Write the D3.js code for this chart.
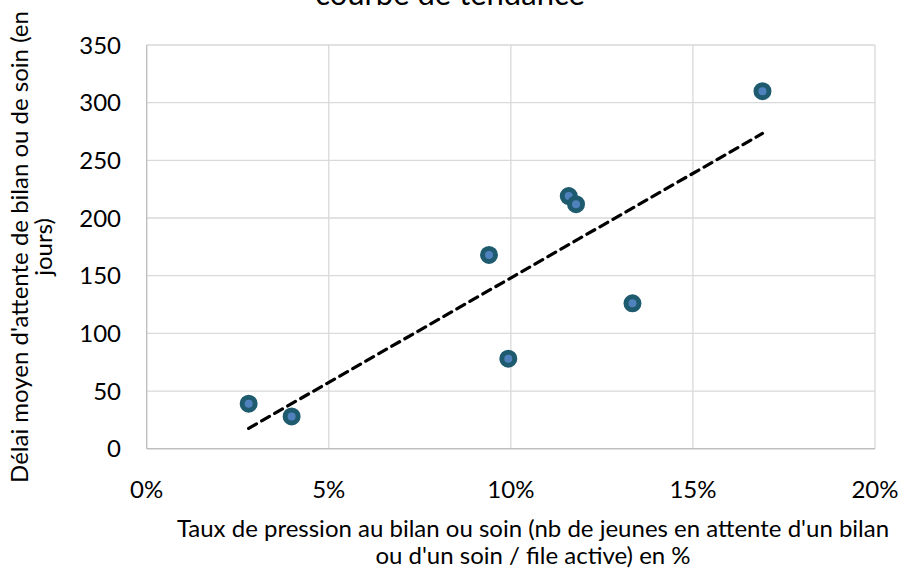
<!DOCTYPE html>
<html><head><meta charset="utf-8">
<script src="https://cdn.jsdelivr.net/npm/d3@7"></script>
<style>body{margin:0;background:#fff}svg{display:block}text{font-family:Lato,"Open Sans",sans-serif;fill:#000}</style>
</head><body>
<svg id="c" width="903" height="569"></svg>
<script>
const titleText = "courbe de tendance";
const xTitleLines = ["Taux de pression au bilan ou soin (nb de jeunes en attente d'un bilan", "ou d'un soin / file active) en %"];
const yTitleLines = ["Délai moyen d'attente de bilan ou de soin (en", "jours)"];
const xTicks = [0, 0.05, 0.10, 0.15, 0.20];
const yTicks = [0, 50, 100, 150, 200, 250, 300, 350];
const xValues = [0.028, 0.0398, 0.094, 0.0993, 0.1159, 0.1179, 0.1334, 0.1691];
const yValues = [39, 28, 168, 78, 219, 212, 126, 310];

const svg = d3.select("#c");
const L = 146.7, R = 875, T = 45, B = 448.7;
const x = d3.scaleLinear().domain([0, 0.20]).range([L, R]);
const y = d3.scaleLinear().domain([0, 350]).range([B, T]);

// gridlines
svg.append("g").selectAll("line").data(xTicks.slice(1)).join("line")
  .attr("x1", d => x(d)).attr("x2", d => x(d)).attr("y1", T).attr("y2", B)
  .attr("stroke", "#d9d9d9").attr("stroke-width", 1.3);
svg.append("g").selectAll("line").data(yTicks.slice(1)).join("line")
  .attr("x1", L).attr("x2", R).attr("y1", d => y(d)).attr("y2", d => y(d))
  .attr("stroke", "#d9d9d9").attr("stroke-width", 1.3);
// axis lines
svg.append("line").attr("x1", x(0)).attr("x2", x(0)).attr("y1", T).attr("y2", B)
  .attr("stroke", "#bfbfbf").attr("stroke-width", 1.4);
svg.append("line").attr("x1", L).attr("x2", R).attr("y1", y(0)).attr("y2", y(0))
  .attr("stroke", "#bfbfbf").attr("stroke-width", 1.4);

// tick labels
svg.append("g").selectAll("text").data(yTicks).join("text")
  .attr("x", 121).attr("y", d => y(d)).attr("dy", "0.36em")
  .attr("text-anchor", "end").attr("font-size", 24).text(d => d);
svg.append("g").selectAll("text").data(xTicks).join("text")
  .attr("x", d => x(d)).attr("y", 498)
  .attr("text-anchor", "middle").attr("font-size", 24).text(d => d3.format(".0%")(d));

// trend line (least squares)
const mx = d3.mean(xValues), my = d3.mean(yValues);
let sxy = 0, sxx = 0;
xValues.forEach((v, i) => { sxy += (v - mx) * (yValues[i] - my); sxx += (v - mx) ** 2; });
const slope = sxy / sxx, icpt = my - slope * mx;
const x0 = d3.min(xValues), x1 = d3.max(xValues);
svg.append("line")
  .attr("x1", x(x0)).attr("y1", y(icpt + slope * x0))
  .attr("x2", x(x1)).attr("y2", y(icpt + slope * x1))
  .attr("stroke", "#000").attr("stroke-width", 3.2)
  .attr("stroke-dasharray", "9,6").attr("stroke-linecap", "round");

// points
svg.append("g").selectAll("circle").data(xValues).join("circle")
  .attr("cx", d => x(d)).attr("cy", (d, i) => y(yValues[i])).attr("r", 6.5)
  .attr("fill", "#4f81bd").attr("stroke", "#1f5b6f").attr("stroke-width", 5);

// titles
svg.append("text").attr("x", 450).attr("y", 5).attr("text-anchor", "middle")
  .attr("font-size", 31).text(titleText);
svg.append("g").selectAll("text").data(xTitleLines).join("text")
  .attr("x", 533).attr("y", (d, i) => 537 + i * 27).attr("text-anchor", "middle")
  .attr("font-size", 24).text(d => d);
svg.append("g").attr("transform", "translate(0,247) rotate(-90)")
  .selectAll("text").data(yTitleLines).join("text")
  .attr("x", 0).attr("y", (d, i) => 28 + i * 24).attr("text-anchor", "middle")
  .attr("font-size", 24).text(d => d);
</script>
</body></html>
